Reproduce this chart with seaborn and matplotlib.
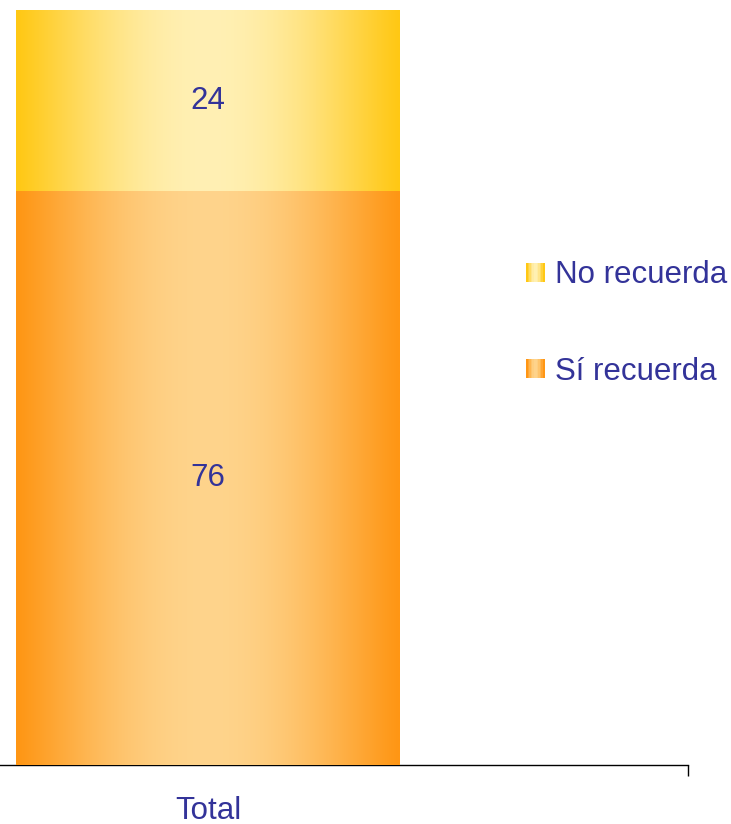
import numpy as np
import pandas as pd
import matplotlib
matplotlib.use("Agg")
import matplotlib.pyplot as plt
import seaborn as sns
from matplotlib.patches import Rectangle
from matplotlib.legend_handler import HandlerBase
from matplotlib.colors import to_rgb

categories = ["Total"]
si_recuerda = [76]
no_recuerda = [24]
series_names = ["No recuerda", "Sí recuerda"]

TEXT = "#333399"
ORANGE_EDGE, ORANGE_MID = "#FF9614", "#FED48C"
GOLD_EDGE, GOLD_MID = "#FFC814", "#FFF0B4"
FS = 22.5

sns.set_theme(style="white")
plt.rcParams["font.family"] = ["Liberation Sans", "DejaVu Sans"]

def grad_colors(edge, mid, n=256):
    x = np.linspace(0, 1, n)
    t = np.sin(np.pi * x) ** 1.1
    e = np.array(to_rgb(edge)); m = np.array(to_rgb(mid))
    return e[None, :] * (1 - t[:, None]) + m[None, :] * t[:, None]

fig = plt.figure(figsize=(7.31, 8.24), dpi=100)
ax = fig.add_axes([0, 1 - 765 / 824, 688 / 731, (765 - 10) / 824])

df_top = pd.DataFrame({"cat": categories, "val": np.add(si_recuerda, no_recuerda)})
df_bot = pd.DataFrame({"cat": categories, "val": si_recuerda})
sns.barplot(data=df_top, x="cat", y="val", ax=ax, width=0.8, color=GOLD_EDGE, linewidth=0)
n_top = len(ax.patches)
sns.barplot(data=df_bot, x="cat", y="val", ax=ax, width=0.8, color=ORANGE_EDGE, linewidth=0)

for i, p in enumerate(ax.patches):
    edge, mid = (GOLD_EDGE, GOLD_MID) if i < n_top else (ORANGE_EDGE, ORANGE_MID)
    cols = grad_colors(edge, mid)
    x0, y0 = p.get_x(), p.get_y()
    w, h = p.get_width(), p.get_height()
    img = ax.imshow(cols[None, :, :], extent=[x0, x0 + w, y0, y0 + h],
                    aspect="auto", zorder=2 + i, interpolation="bilinear")
    img.set_clip_path(p)
    p.set_alpha(0)

ax.set_xlim(-208 / 480, 1.0)
ax.set_ylim(0, 100)

for i, p in enumerate(ax.patches):
    if i < n_top:
        val = no_recuerda[i]
        yc = si_recuerda[i] + val / 2
    else:
        val = si_recuerda[i - n_top]
        yc = val / 2
    ax.text(p.get_x() + p.get_width() / 2, yc, f"{val}", ha="center", va="center",
            color=TEXT, fontsize=FS, zorder=10)

for s in ["top", "left", "right"]:
    ax.spines[s].set_visible(False)
ax.spines["bottom"].set_color("black")
ax.spines["bottom"].set_linewidth(1.0)
ax.set_xlabel(""); ax.set_ylabel("")
ax.set_yticks([])
ax.set_xticks([0])
ax.set_xticklabels(categories, color=TEXT, fontsize=FS)
ax.tick_params(axis="x", which="major", length=0, pad=22)
ax.set_xticks([1.0], minor=True)
ax.tick_params(axis="x", which="minor", length=8, width=1, color="black", bottom=True)

class GradHandler(HandlerBase):
    def __init__(self, edge, mid):
        super().__init__()
        self.edge, self.mid = edge, mid
    def create_artists(self, legend, orig_handle, xdescent, ydescent, width, height, fontsize, trans):
        n = 12
        cols = grad_colors(self.edge, self.mid, n)
        arts = []
        for k in range(n):
            r = Rectangle((-xdescent + k * width / n, -ydescent), width / n + 0.3, height,
                          facecolor=cols[k], edgecolor="none", transform=trans)
            arts.append(r)
        return arts

h_no = Rectangle((0, 0), 1, 1)
h_si = Rectangle((0, 0), 1, 1)
leg = fig.legend([h_no, h_si], series_names, loc="center left",
                 bbox_to_anchor=(526 / 731, 1 - 323.5 / 824), frameon=False,
                 borderpad=0, borderaxespad=0,
                 fontsize=FS, handlelength=0.58, handleheight=0.58, handletextpad=0.36,
                 labelspacing=2.12,
                 handler_map={h_no: GradHandler(GOLD_EDGE, GOLD_MID),
                              h_si: GradHandler(ORANGE_EDGE, ORANGE_MID)})
for t in leg.get_texts():
    t.set_color(TEXT)

fig.savefig("out.png", dpi=100)
